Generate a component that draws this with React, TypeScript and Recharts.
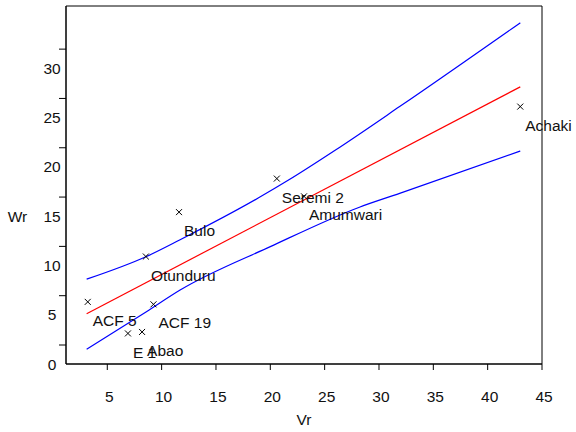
import React from "react";
import {
  ScatterChart,
  Scatter,
  XAxis,
  YAxis,
  ReferenceArea,
} from "recharts";

// site observations
const sites = ["Achaki", "Seremi 2", "Amumwari", "Bulo", "Otunduru", "ACF 5", "ACF 19", "E 1", "Abao"];
const vr = [43.0, 20.6, 23.1, 11.6, 8.55, 3.2, 9.25, 6.9, 8.2];
const wr = [26.1, 18.8, 17.0, 15.4, 10.9, 6.3, 6.05, 3.1, 3.25];

// fitted line (end points)
const fitX = [3.1, 43.0];
const fitY = [5.1, 28.1];

// confidence band
const upperX = [3.1, 8.6, 11.7, 19.0, 21.6, 26.0, 31.9, 43.0];
const upperY = [8.6, 10.9, 12.6, 16.9, 18.6, 21.7, 26.1, 34.6];
const lowerX = [3.1, 8.6, 11.7, 20.0, 28.2, 31.9, 43.0];
const lowerY = [1.5, 5.3, 7.5, 11.9, 15.9, 17.3, 21.6];

const xTicks = [5, 10, 15, 20, 25, 30, 35, 40, 45];
const yTicks = [0, 5, 10, 15, 20, 25, 30];

const FONT = "'Liberation Sans', Arial, sans-serif";
const FS = 15.5;

const points = sites.map((name, i) => ({ name, x: vr[i], y: wr[i] }));
const fit = fitX.map((x, i) => ({ x, y: fitY[i] }));
const upper = upperX.map((x, i) => ({ x, y: upperY[i] }));
const lower = lowerX.map((x, i) => ({ x, y: lowerY[i] }));

const Cross = (props: any) => {
  const { cx, cy, payload } = props;
  const r = 3;
  return (
    <g>
      <path
        d={`M${cx - r},${cy - r}L${cx + r},${cy + r}M${cx - r},${cy + r}L${cx + r},${cy - r}`}
        stroke="#000"
        strokeWidth={1}
      />
      <text x={cx + 5} y={cy + 18.5 + FS * 0.36} fontFamily={FONT} fontSize={FS} fill="#111">
        {payload.name}
      </text>
    </g>
  );
};

const noDot = () => <g />;

const XTick = (props: any) => {
  const { x, y, payload } = props;
  return (
    <g>
      <line x1={x} y1={y} x2={x} y2={y + 6} stroke="#000" />
      <text x={x + 2} y={y + 32 + FS * 0.36} textAnchor="middle" fontFamily={FONT} fontSize={FS} fill="#111">
        {payload.value}
      </text>
    </g>
  );
};

const YTick = (props: any) => {
  const { x, y, payload } = props;
  return (
    <g>
      <line x1={x - 7} y1={y - 19} x2={x} y2={y - 19} stroke="#000" />
      <text x={x - 14} y={y + FS * 0.36} textAnchor="middle" fontFamily={FONT} fontSize={FS} fill="#111">
        {payload.value}
      </text>
    </g>
  );
};

export default function App() {
  return (
    <div style={{ position: "absolute", left: 0, top: 0, background: "#fff" }}>
      <ScatterChart width={576} height={432} margin={{ top: 6, right: 34, left: 0, bottom: 0 }}>
        <XAxis
          type="number"
          dataKey="x"
          domain={[1.2, 45]}
          ticks={xTicks}
          height={68}
          tickSize={0}
          tickMargin={0}
          axisLine={{ stroke: "#000" }}
          tick={<XTick />}
          label={{
            content: (p: any) => (
              <text
                x={p.viewBox.x + p.viewBox.width / 2}
                y={p.viewBox.y + 55 + FS * 0.36}
                textAnchor="middle"
                fontFamily={FONT}
                fontSize={FS}
                fill="#111"
              >
                Vr
              </text>
            ),
          }}
        />
        <YAxis
          type="number"
          dataKey="y"
          domain={[0, 36.3]}
          ticks={yTicks}
          width={66}
          tickSize={0}
          tickMargin={0}
          axisLine={{ stroke: "#000" }}
          tick={<YTick />}
          label={{
            content: (p: any) => (
              <text
                x={17.5}
                y={p.viewBox.y + 210 + FS * 0.36}
                textAnchor="middle"
                fontFamily={FONT}
                fontSize={FS}
                fill="#111"
              >
                Wr
              </text>
            ),
          }}
        />
        <ReferenceArea x1={1.2} x2={45} y1={0} y2={36.3} fill="none" stroke="#000" strokeWidth={1} fillOpacity={0} />
        <Scatter
          data={upper}
          line={{ stroke: "#0000ff", strokeWidth: 1.2 }}
          lineJointType="monotoneX"
          shape={noDot}
          isAnimationActive={false}
        />
        <Scatter
          data={lower}
          line={{ stroke: "#0000ff", strokeWidth: 1.2 }}
          lineJointType="monotoneX"
          shape={noDot}
          isAnimationActive={false}
        />
        <Scatter
          data={fit}
          line={{ stroke: "#ff0000", strokeWidth: 1.2 }}
          shape={noDot}
          isAnimationActive={false}
        />
        <Scatter data={points} shape={Cross} isAnimationActive={false} />
      </ScatterChart>
    </div>
  );
}
